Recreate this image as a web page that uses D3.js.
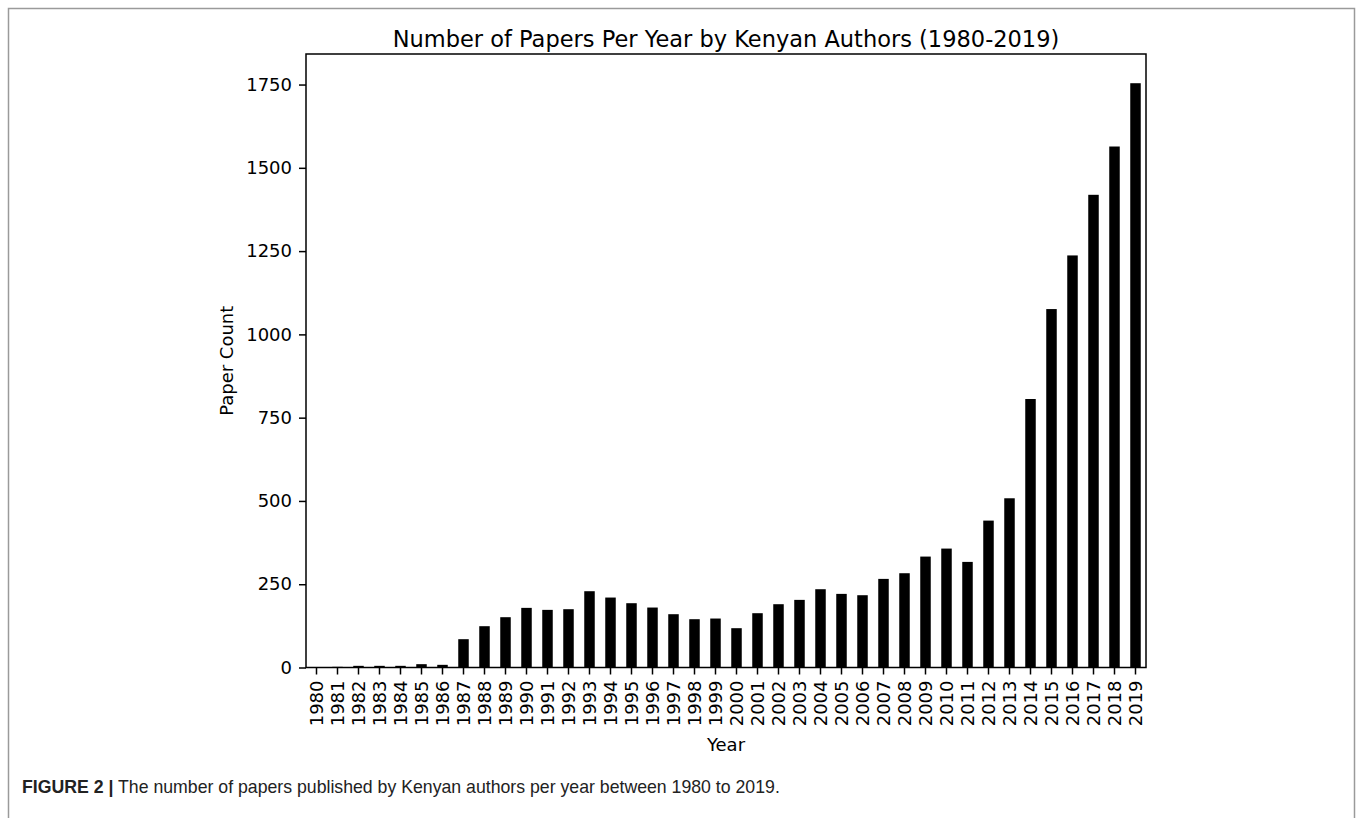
<!DOCTYPE html>
<html>
<head>
<meta charset="utf-8">
<script src="https://cdn.jsdelivr.net/npm/d3@7"></script>
<style>
  html, body { margin: 0; padding: 0; background: #fff; }
  svg { display: block; }
</style>
</head>
<body>
<svg id="chart" width="1358" height="818"></svg>
<script>
const years = ["1980","1981","1982","1983","1984","1985","1986","1987","1988","1989",
  "1990","1991","1992","1993","1994","1995","1996","1997","1998","1999",
  "2000","2001","2002","2003","2004","2005","2006","2007","2008","2009",
  "2010","2011","2012","2013","2014","2015","2016","2017","2018","2019"];
const paperCounts = [1, 2, 5, 5, 5, 10, 8, 85, 124, 151,
  179, 173, 175, 229, 210, 193, 180, 160, 145, 147,
  118, 163, 190, 203, 235, 221, 217, 266, 283, 333,
  357, 317, 441, 508, 806, 1076, 1237, 1419, 1564, 1754];
const yTicks = [0, 250, 500, 750, 1000, 1250, 1500, 1750];
const titleText = "Number of Papers Per Year by Kenyan Authors (1980-2019)";
const xLabel = "Year";
const yLabel = "Paper Count";
const captionBold = "FIGURE 2 |";
const captionText = " The number of papers published by Kenyan authors per year between 1980 to 2019.";

const svg = d3.select("#chart");
const font = "DejaVu Sans, sans-serif";

// outer figure frame
svg.append("rect")
  .attr("x", 8.5).attr("y", 8.5)
  .attr("width", 1346).attr("height", 830)
  .attr("fill", "none").attr("stroke", "#9a9a9a").attr("stroke-width", 1.5);

const plot = { left: 306, right: 1146, top: 54, bottom: 667.5 };

const x = d3.scaleBand()
  .domain(years)
  .range([plot.left, plot.right])
  .paddingInner(0.5)
  .paddingOuter(0.25);

const y = d3.scaleLinear()
  .domain([0, d3.max(paperCounts) * 1.05])
  .range([plot.bottom, plot.top]);

// bars
svg.append("g").selectAll("rect")
  .data(years)
  .join("rect")
  .attr("x", d => x(d))
  .attr("width", x.bandwidth())
  .attr("y", (d, i) => y(paperCounts[i]))
  .attr("height", (d, i) => y(0) - y(paperCounts[i]))
  .attr("fill", "#000");

// y axis
const yAxis = svg.append("g")
  .attr("transform", `translate(${plot.left},0)`)
  .call(d3.axisLeft(y).tickValues(yTicks).tickSize(7).tickPadding(7).tickFormat(d3.format("d")));
yAxis.select(".domain").remove();
yAxis.selectAll(".tick line").attr("stroke", "#000").attr("stroke-width", 1.5);
yAxis.selectAll(".tick text").attr("font-family", font).attr("font-size", 18).attr("fill", "#000");

// x axis
const xAxis = svg.append("g")
  .attr("transform", `translate(0,${plot.bottom})`)
  .call(d3.axisBottom(x).tickSize(7).tickPadding(6));
xAxis.select(".domain").remove();
xAxis.selectAll(".tick line").attr("stroke", "#000").attr("stroke-width", 1.5);
xAxis.selectAll(".tick text")
  .attr("font-family", font).attr("font-size", 18).attr("fill", "#000")
  .attr("transform", "rotate(-90)")
  .attr("text-anchor", "end")
  .attr("dy", "0.35em")
  .attr("x", -13)
  .attr("y", 0);

// plot frame (spines)
svg.append("rect")
  .attr("x", plot.left).attr("y", plot.top)
  .attr("width", plot.right - plot.left).attr("height", plot.bottom - plot.top)
  .attr("fill", "none").attr("stroke", "#000").attr("stroke-width", 1.5);

// title
svg.append("text")
  .attr("x", (plot.left + plot.right) / 2).attr("y", 47)
  .attr("text-anchor", "middle")
  .attr("font-family", font).attr("font-size", 22.5).attr("fill", "#000")
  .text(titleText);

// axis labels
svg.append("text")
  .attr("x", (plot.left + plot.right) / 2).attr("y", 751)
  .attr("text-anchor", "middle")
  .attr("font-family", font).attr("font-size", 18).attr("fill", "#000")
  .text(xLabel);

svg.append("text")
  .attr("transform", `translate(233,${(plot.top + plot.bottom) / 2}) rotate(-90)`)
  .attr("text-anchor", "middle")
  .attr("font-family", font).attr("font-size", 18).attr("fill", "#000")
  .text(yLabel);

// caption
const cap = svg.append("text")
  .attr("x", 22).attr("y", 793)
  .attr("font-family", "Liberation Sans, Arial, sans-serif")
  .attr("font-size", 17.7).attr("fill", "#222");
cap.append("tspan").attr("font-weight", "bold").text(captionBold);
cap.append("tspan").text(captionText);
</script>
</body>
</html>
